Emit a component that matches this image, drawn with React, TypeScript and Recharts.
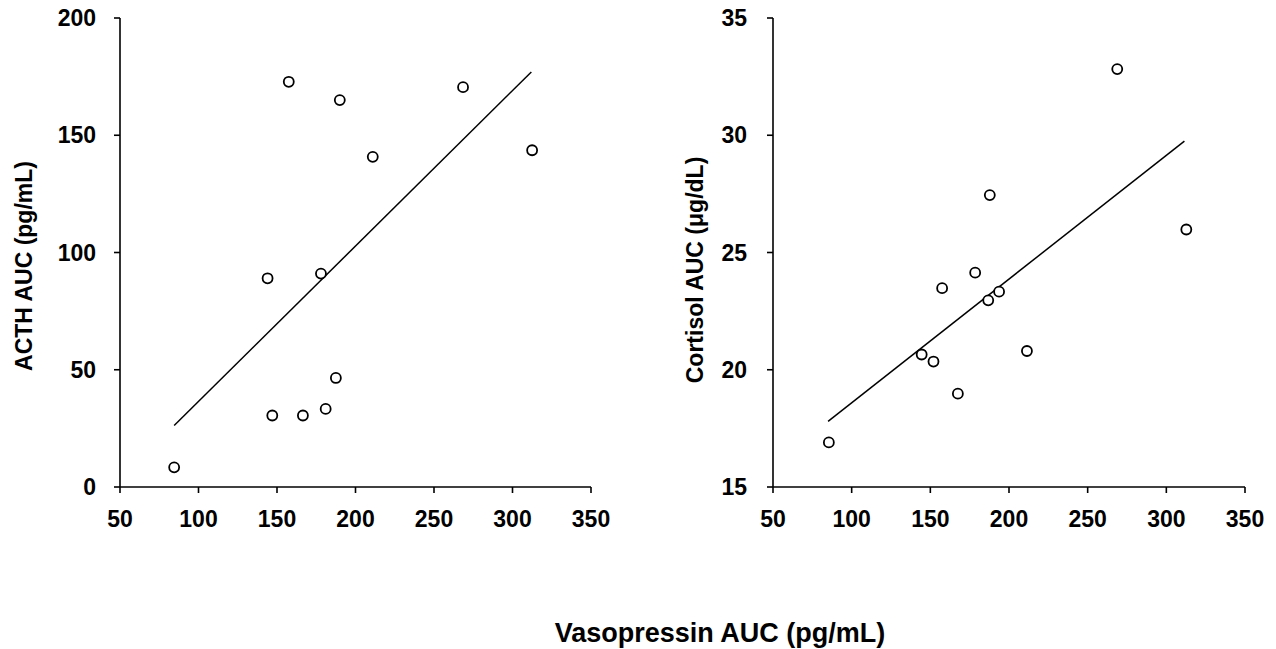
import React from 'react';
import { ScatterChart, Scatter, XAxis, YAxis, ReferenceLine } from 'recharts';

// ---- data ----
const xTicks = [50, 100, 150, 200, 250, 300, 350];
const acthTicks = [0, 50, 100, 150, 200];
const cortisolTicks = [15, 20, 25, 30, 35];

const vasopressinA = [84.5, 144, 147, 157.5, 166.5, 178, 181, 187.5, 190, 211, 268.5, 312.5];
const acth = [8.4, 89, 30.5, 172.8, 30.5, 91, 33.3, 46.5, 165, 140.8, 170.5, 143.6];

const vasopressinB = [85.5, 144.5, 152, 157.5, 167.5, 178.5, 186.8, 187.8, 193.7, 211.4, 268.8, 312.7];
const cortisol = [16.9, 20.65, 20.35, 23.48, 18.98, 24.14, 22.96, 27.45, 23.33, 20.8, 32.82, 25.98];

const acthFitX = [84.5, 312];
const acthFitY = [26.2, 177];
const cortisolFitX = [85, 311.5];
const cortisolFitY = [17.8, 29.75];

const xTitle = 'Vasopressin AUC (pg/mL)';
const acthTitle = 'ACTH AUC (pg/mL)';
const cortisolTitle = 'Cortisol AUC (\u03bcg/dL)';

const acthData = vasopressinA.map((x, i) => ({ x, y: acth[i] }));
const cortisolData = vasopressinB.map((x, i) => ({ x, y: cortisol[i] }));

const FONT = '"Liberation Sans", Arial, Helvetica, sans-serif';
const tickStyle = { fill: '#000', fontSize: 23, fontWeight: 700, fontFamily: FONT };
const lineStyle = { stroke: '#000', strokeWidth: 1.6 };

const Ring = (props: any) => {
  const { cx, cy } = props;
  if (cx == null || cy == null) return null;
  return <circle cx={cx} cy={cy} r={5} fill="#fff" stroke="#000" strokeWidth={1.8} />;
};

function Panel(props: {
  data: { x: number; y: number }[];
  yDomain: [number, number];
  yTicks: number[];
  fitX: number[];
  fitY: number[];
  width: number;
  marginLeft: number;
  marginRight: number;
  yTickMargin: number;
}) {
  const { data, yDomain, yTicks, fitX, fitY, width, marginLeft, marginRight, yTickMargin } = props;
  return (
    <ScatterChart
      width={width}
      height={560}
      margin={{ top: 18, right: marginRight, bottom: 33, left: marginLeft }}
    >
      <XAxis
        type="number"
        dataKey="x"
        domain={[50, 350]}
        ticks={xTicks}
        interval={0}
        height={40}
        tickSize={6}
        tickMargin={18}
        axisLine={lineStyle}
        tickLine={lineStyle}
        tick={tickStyle}
      />
      <YAxis
        type="number"
        dataKey="y"
        domain={yDomain}
        ticks={yTicks}
        interval={0}
        width={80}
        tickSize={6}
        tickMargin={yTickMargin}
        axisLine={lineStyle}
        tickLine={lineStyle}
        tick={tickStyle}
      />
      <ReferenceLine
        segment={[
          { x: fitX[0], y: fitY[0] },
          { x: fitX[1], y: fitY[1] },
        ]}
        stroke="#000"
        strokeWidth={1.5}
        ifOverflow="visible"
      />
      <Scatter data={data} shape={Ring} isAnimationActive={false} />
    </ScatterChart>
  );
}

export default function App() {
  return (
    <div
      style={{
        position: 'absolute',
        left: 0,
        top: 0,
        width: 1276,
        height: 649,
        background: '#fff',
        overflow: 'hidden',
      }}
    >
      <div style={{ position: 'absolute', left: 0, top: 0 }}>
        <Panel
          data={acthData}
          yDomain={[0, 200]}
          yTicks={acthTicks}
          fitX={acthFitX}
          fitY={acthFitY}
          width={640}
          marginLeft={40}
          marginRight={49}
          yTickMargin={18}
        />
      </div>
      <div style={{ position: 'absolute', left: 640, top: 0 }}>
        <Panel
          data={cortisolData}
          yDomain={[15, 35]}
          yTicks={cortisolTicks}
          fitX={cortisolFitX}
          fitY={cortisolFitY}
          width={636}
          marginLeft={53}
          marginRight={31}
          yTickMargin={20}
        />
      </div>
      <svg
        width={1276}
        height={649}
        style={{ position: 'absolute', left: 0, top: 0, pointerEvents: 'none' }}
      >
        <text
          x={720}
          y={642}
          textAnchor="middle"
          fontFamily={FONT}
          fontWeight={700}
          fontSize={27}
          fill="#000"
        >
          {xTitle}
        </text>
        <text
          transform="translate(32,266) rotate(-90)"
          textAnchor="middle"
          fontFamily={FONT}
          fontWeight={700}
          fontSize={23}
          fill="#000"
        >
          {acthTitle}
        </text>
        <text
          transform="translate(703,270) rotate(-90)"
          textAnchor="middle"
          fontFamily={FONT}
          fontWeight={700}
          fontSize={23}
          fill="#000"
        >
          {cortisolTitle}
        </text>
      </svg>
    </div>
  );
}
